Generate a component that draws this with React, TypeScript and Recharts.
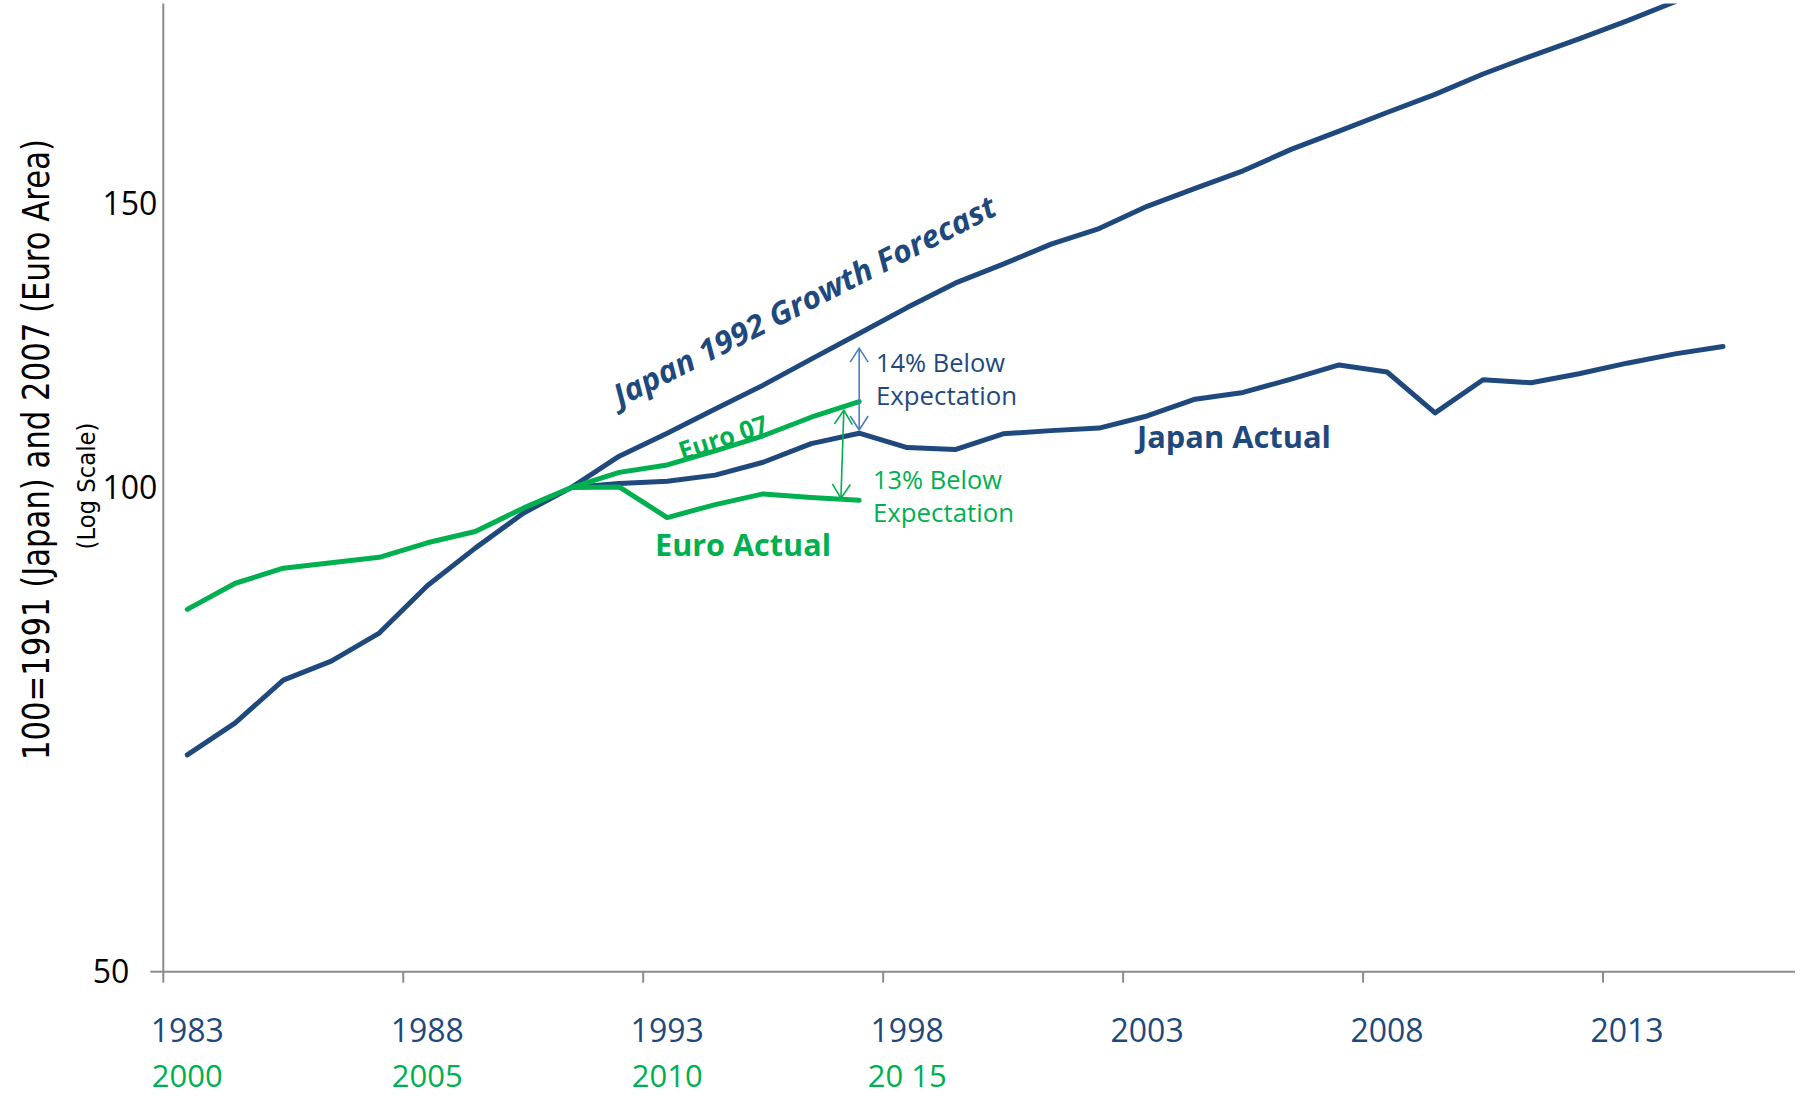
import React from 'react';
import { LineChart, Line, XAxis, YAxis, ReferenceLine } from 'recharts';

// Japan years on the category axis (one band per year)
const years = [
  1983, 1984, 1985, 1986, 1987, 1988, 1989, 1990, 1991, 1992, 1993, 1994,
  1995, 1996, 1997, 1998, 1999, 2000, 2001, 2002, 2003, 2004, 2005, 2006,
  2007, 2008, 2009, 2010, 2011, 2012, 2013, 2014, 2015, 2016,
];
const japanTickYears = [1983, 1988, 1993, 1998, 2003, 2008, 2013];
const euroTickLabels = ['2000', '2005', '2010', '20 15'];
const yTicks = [50, 100, 150];

// index: 100 = 1991 (Japan) / 2007 (Euro Area), log scale
const japanActual = [
  68.2, 71.4, 75.9, 78.0, 81.2, 86.9, 91.7, 96.4, 100, 100.6, 100.9, 101.8,
  103.7, 106.5, 108.1, 105.9, 105.6, 108.0, 108.5, 108.9, 110.8, 113.5, 114.6, 116.8,
  119.2, 118.0, 111.3, 116.7, 116.2, 117.7, 119.5, 121.1, 122.4, null,
];
const japanForecast = [
  null, null, null, null, null, null, null, null, 100, 104.6, 108.1, 111.9,
  115.8, 120.2, 124.7, 129.4, 134.0, 137.7, 141.7, 144.9, 149.6, 153.5, 157.4, 162.3,
  166.6, 171.1, 175.6, 180.8, 185.5, 190.1, 195.1, 200.5, null, null,
];
const euroActual = [
  84.0, 87.2, 89.1, 89.8, 90.5, 92.4, 93.9, 97.1, 100, 100.1, 95.8, 97.6,
  99.1, 98.6, 98.2, null, null, null, null, null, null, null, null, null,
  null, null, null, null, null, null, null, null, null, null,
];
const euro07 = [
  null, null, null, null, null, null, null, null, 100, 102.2, 103.3, 105.4,
  107.7, 110.6, 113.1, null, null, null, null, null, null, null, null, null,
  null, null, null, null, null, null, null, null, null, null,
];

// gap arrows: [x top, y top, x bottom, y bottom]
const japanGap = [1997, 122.1, 1997, 108.6];
const euroGap = [1996.68, 111.7, 1996.62, 98.5];

const rows = years.map((year, i) => ({
  year,
  japanActual: japanActual[i],
  japanForecast: japanForecast[i],
  euroActual: euroActual[i],
  euro07: euro07[i],
}));

const W = 1803;
const H = 1097;
const MARGIN = { top: 3.5, right: 8, bottom: 0, left: 63.3 };
const Y_W = 100;
const BAND = (W - MARGIN.left - Y_W - MARGIN.right) / years.length;

const BLUE = '#1F497D';
const GREEN = '#00B050';
const AXIS = '#8C8C8C';
const FONT = "'Open Sans', sans-serif";

const XTick = (props: any) => {
  const { x, y, payload, index } = props;
  const bx = x - BAND / 2;
  return (
    <g>
      <line x1={bx} y1={y} x2={bx} y2={y + 11} stroke={AXIS} strokeWidth={2} />
      <text x={x} y={y + 70} textAnchor="middle" fill={BLUE} fontSize={32} fontFamily={FONT}>
        {payload.value}
      </text>
      {euroTickLabels[index] && (
        <text x={x} y={y + 115} textAnchor="middle" fill={GREEN} fontSize={31} fontFamily={FONT}>
          {euroTickLabels[index]}
        </text>
      )}
    </g>
  );
};

const YTick = (props: any) => {
  const { x, y, payload } = props;
  // the "50" label sits further left in the original
  const dx = payload.value === 50 ? -28 : 0;
  return (
    <g>
      {payload.value === 50 && (
        <line x1={x - 7} y1={y} x2={x + 6} y2={y} stroke={AXIS} strokeWidth={2} />
      )}
      <text x={x + dx} y={y + 11} textAnchor="end" fill="#000" fontSize={32} fontFamily={FONT}>
        {payload.value}
      </text>
    </g>
  );
};

const arrowShape = (color: string) => (p: any) => {
  const { x1, y1, x2, y2 } = p;
  const len = Math.hypot(x2 - x1, y2 - y1) || 1;
  const ux = (x2 - x1) / len;
  const uy = (y2 - y1) / len;
  const nx = -uy;
  const ny = ux;
  const hl = 14;
  const hw = 9;
  const top = `${x1 + ux * hl + nx * hw},${y1 + uy * hl + ny * hw} ${x1},${y1} ${x1 + ux * hl - nx * hw},${y1 + uy * hl - ny * hw}`;
  const bot = `${x2 - ux * hl + nx * hw},${y2 - uy * hl + ny * hw} ${x2},${y2} ${x2 - ux * hl - nx * hw},${y2 - uy * hl - ny * hw}`;
  return (
    <g stroke={color} strokeWidth={1.6} fill="none">
      <line x1={x1} y1={y1} x2={x2} y2={y2} />
      <polyline points={top} />
      <polyline points={bot} />
    </g>
  );
};

export default function App() {
  return (
    <div style={{ position: 'absolute', left: 0, top: 0, width: W, height: H, background: '#fff' }}>
      <LineChart width={W} height={H} data={rows} margin={MARGIN}>
        <XAxis
          dataKey="year"
          type="number"
          domain={[1982.5, 2016.5]}
          ticks={japanTickYears}
          interval={0}
          height={125.3}
          tickSize={0}
          tickMargin={0}
          tickLine={false}
          axisLine={{ stroke: AXIS, strokeWidth: 2 }}
          tick={<XTick />}
        />
        <YAxis
          scale="log"
          domain={[50, 200]}
          allowDataOverflow
          ticks={yTicks}
          interval={0}
          width={Y_W}
          tickSize={0}
          tickMargin={6}
          tickLine={false}
          axisLine={{ stroke: AXIS, strokeWidth: 2 }}
          tick={<YTick />}
        />
        <Line dataKey="japanForecast" stroke={BLUE} strokeWidth={5} dot={false} strokeLinecap="round" strokeLinejoin="round" isAnimationActive={false} />
        <Line dataKey="japanActual" stroke={BLUE} strokeWidth={5} dot={false} strokeLinecap="round" strokeLinejoin="round" isAnimationActive={false} />
        <Line dataKey="euroActual" stroke={GREEN} strokeWidth={5} dot={false} strokeLinecap="round" strokeLinejoin="round" isAnimationActive={false} />
        <Line dataKey="euro07" stroke={GREEN} strokeWidth={5} dot={false} strokeLinecap="round" strokeLinejoin="round" isAnimationActive={false} />
        <ReferenceLine
          segment={[{ x: japanGap[0], y: japanGap[1] }, { x: japanGap[2], y: japanGap[3] }]}
          ifOverflow="visible"
          shape={arrowShape('#4A7EBB')}
        />
        <ReferenceLine
          segment={[{ x: euroGap[0], y: euroGap[1] }, { x: euroGap[2], y: euroGap[3] }]}
          ifOverflow="visible"
          shape={arrowShape(GREEN)}
        />

        {/* axis titles */}
        <text x={36} y={449.5} transform="rotate(-90 36 449.5)" textAnchor="middle" dominantBaseline="central"
          fontFamily="'DejaVu Sans', sans-serif" fontSize={37} textLength={621} lengthAdjust="spacingAndGlyphs" fill="#000">
          100=1991 (Japan) and 2007 (Euro Area)
        </text>
        <text x={87} y={486} transform="rotate(-90 87 486)" textAnchor="middle" dominantBaseline="central"
          fontFamily="'DejaVu Sans', sans-serif" fontSize={24} textLength={127} lengthAdjust="spacingAndGlyphs" fill="#000">
          (Log Scale)
        </text>

        {/* series annotations */}
        <text x={804} y={300} transform="rotate(-27 804 300)" textAnchor="middle" dominantBaseline="central"
          fontFamily={FONT} fontSize={31} fontWeight="bold" fontStyle="italic" textLength={425} lengthAdjust="spacingAndGlyphs" fill={BLUE}>
          Japan 1992 Growth Forecast
        </text>
        <text x={723} y={437} transform="rotate(-18 723 437)" textAnchor="middle" dominantBaseline="central"
          fontFamily={FONT} fontSize={26} fontWeight="bold" textLength={92} lengthAdjust="spacingAndGlyphs" fill={GREEN}>
          Euro 07
        </text>
        <text x={1137} y={448} fontFamily={FONT} fontSize={31} fontWeight="bold" textLength={194} lengthAdjust="spacingAndGlyphs" fill={BLUE}>
          Japan Actual
        </text>
        <text x={655} y={556} fontFamily={FONT} fontSize={31} fontWeight="bold" textLength={176} lengthAdjust="spacingAndGlyphs" fill={GREEN}>
          Euro Actual
        </text>
        <text x={876} y={371.7} fontFamily={FONT} fontSize={26} textLength={129} lengthAdjust="spacingAndGlyphs" fill={BLUE}>
          14% Below
        </text>
        <text x={876} y={405} fontFamily={FONT} fontSize={26} textLength={141} lengthAdjust="spacingAndGlyphs" fill={BLUE}>
          Expectation
        </text>
        <text x={873} y={489.3} fontFamily={FONT} fontSize={26} textLength={129} lengthAdjust="spacingAndGlyphs" fill={GREEN}>
          13% Below
        </text>
        <text x={873} y={521.7} fontFamily={FONT} fontSize={26} textLength={141} lengthAdjust="spacingAndGlyphs" fill={GREEN}>
          Expectation
        </text>
      </LineChart>
    </div>
  );
}
